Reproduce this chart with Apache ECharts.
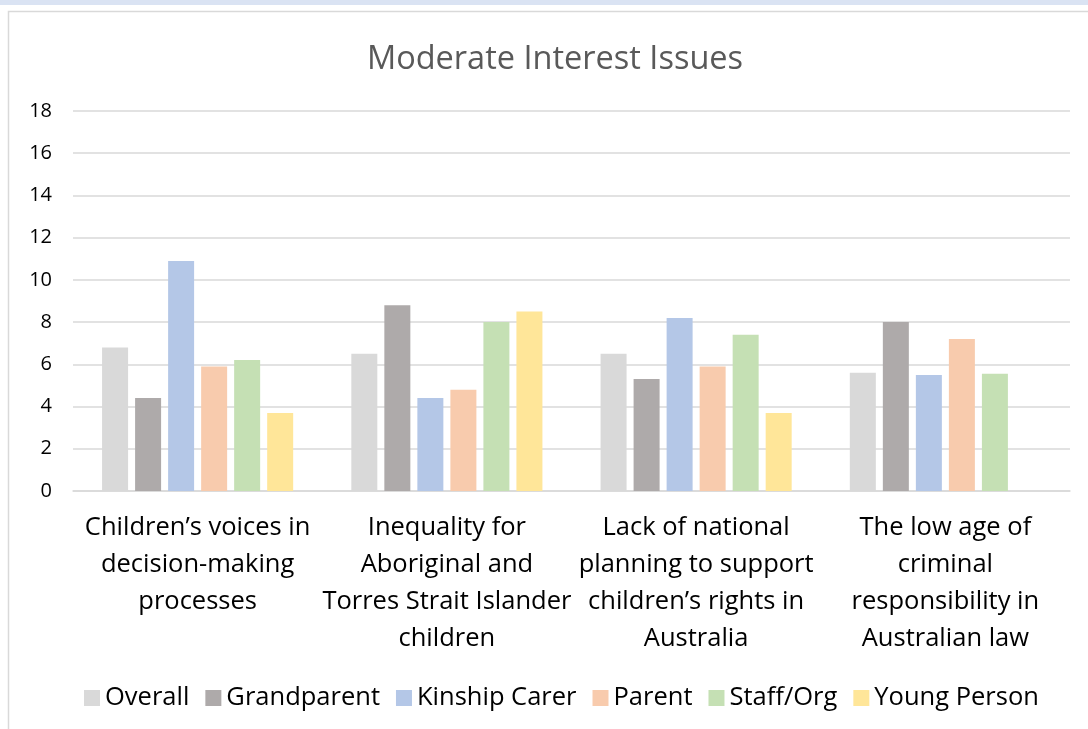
<!DOCTYPE html>
<html>
<head>
<meta charset="utf-8">
<style>
  html, body { margin: 0; padding: 0; background: #ffffff; }
  #chart { width: 1088px; height: 729px; }
</style>
<script src="https://cdn.jsdelivr.net/npm/echarts@6/dist/echarts.min.js"></script>
</head>
<body>
<div id="chart"></div>
<script>
// Issue categories (line breaks as set in the axis labels)
const categories = [
  'Children\u2019s voices in\ndecision-making\nprocesses',
  'Inequality for\nAboriginal and\nTorres Strait Islander\nchildren',
  'Lack of national\nplanning to support\nchildren\u2019s rights in\nAustralia',
  'The low age of\ncriminal\nresponsibility in\nAustralian law'
];

// Respondent groups
const seriesNames = ['Overall', 'Grandparent', 'Kinship Carer', 'Parent', 'Staff/Org', 'Young Person'];

// Values per group, one entry per issue
const overall      = [6.8, 6.5, 6.5, 5.6];
const grandparent  = [4.4, 8.8, 5.3, 8.0];
const kinshipCarer = [10.9, 4.4, 8.2, 5.5];
const parent       = [5.9, 4.8, 5.9, 7.2];
const staffOrg     = [6.2, 8.0, 7.4, 5.55];
const youngPerson  = [3.7, 8.5, 3.7, null];

// Y axis ticks
const yMin = 0, yMax = 18, yStep = 2;

const values = [overall, grandparent, kinshipCarer, parent, staffOrg, youngPerson];
const colors = ['#d9d9d9', '#aeaaaa', '#b4c7e7', '#f8cbad', '#c5e0b4', '#ffe699'];
const FONT = '"Open Sans", Lato, sans-serif';

const chart = echarts.init(document.getElementById('chart'), null, { renderer: 'canvas' });

chart.setOption({
  animation: false,
  backgroundColor: '#ffffff',
  graphic: [
    { type: 'rect', left: 0, top: 0, shape: { x: 0, y: 0, width: 1088, height: 5 },
      style: { fill: '#dae3f3' }, silent: true, z: -10 },
    { type: 'rect', shape: { x: 8.5, y: 11.5, width: 1100, height: 740 },
      style: { fill: 'none', stroke: '#d9d9d9', lineWidth: 1.5 }, silent: true, z: -10 }
  ],
  title: {
    text: 'Moderate Interest Issues',
    left: 550, top: 38, textAlign: 'center',
    textStyle: { fontFamily: FONT, fontSize: 32.5, fontWeight: 'normal', color: '#595959' }
  },
  legend: {
    data: seriesNames,
    left: 79, top: 680,
    itemWidth: 16, itemHeight: 16, itemGap: 16,
    icon: 'rect',
    textStyle: { fontFamily: FONT, fontSize: 25.5, color: '#000000' }
  },
  grid: { left: 73, right: 18, top: 111, bottom: 238, containLabel: false },
  xAxis: {
    type: 'category',
    data: categories,
    axisLine: { show: true, lineStyle: { color: '#d9d9d9', width: 1.5 } },
    axisTick: { show: false },
    axisLabel: {
      interval: 0, margin: 18,
      fontFamily: FONT, fontSize: 25.5, lineHeight: 37, color: '#000000', align: 'center'
    }
  },
  yAxis: {
    type: 'value',
    min: yMin, max: yMax, interval: yStep,
    axisLine: { show: false },
    axisTick: { show: false },
    axisLabel: { margin: 21, fontFamily: FONT, fontSize: 20, color: '#000000' },
    splitLine: { lineStyle: { color: '#d9d9d9', width: 1.5 } }
  },
  series: seriesNames.map((name, i) => ({
    name: name,
    type: 'bar',
    data: values[i],
    barWidth: 26,
    barGap: '27%',
    itemStyle: { color: colors[i] }
  }))
});
</script>
</body>
</html>
